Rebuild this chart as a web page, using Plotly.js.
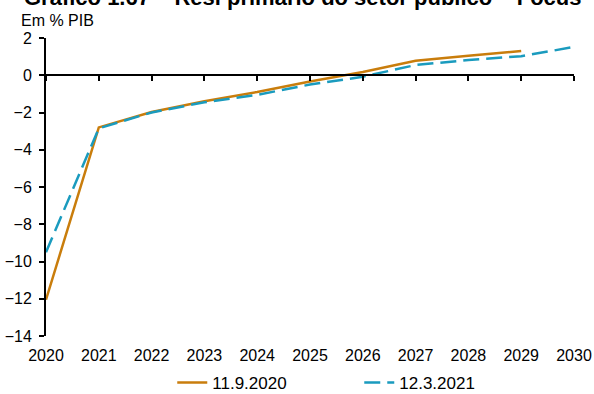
<!DOCTYPE html>
<html>
<head>
<meta charset="utf-8">
<script src="https://cdn.plot.ly/plotly-3.0.1.min.js"></script>
<style>html,body{margin:0;padding:0;background:#fff;}#chart{width:594px;height:394px;}</style>
</head>
<body>
<div id="chart"></div>
<script>
const years = [2020, 2021, 2022, 2023, 2024, 2025, 2026, 2027, 2028, 2029, 2030];
const seriesA_name = "11.9.2020";
const seriesA = [-12.05, -2.8, -1.97, -1.4, -0.9, -0.33, 0.18, 0.78, 1.05, 1.3];
const seriesB_name = "12.3.2021";
const seriesB = [-9.5, -2.85, -2.0, -1.45, -1.05, -0.5, -0.08, 0.55, 0.82, 1.02, 1.52];
const yTicks = [2, 0, -2, -4, -6, -8, -10, -12, -14];
const titleText = "Gráfico 1.67 – Resl primário do setor público – Focus";
const unitText = "Em % PIB";

const font = "Liberation Sans, Arial, sans-serif";
const traces = [
  {x: years.slice(0, seriesA.length), y: seriesA, name: seriesA_name, type: "scatter", mode: "lines",
   line: {color: "#C97D0C", width: 2.5}},
  {x: years.slice(0, seriesB.length), y: seriesB, name: seriesB_name, type: "scatter", mode: "lines",
   line: {color: "#1A9BBE", width: 2.5, dash: "16px,7px"}}
];
const layout = {
  width: 594, height: 394,
  margin: {l: 46, r: 20, t: 38, b: 58, autoexpand: false},
  paper_bgcolor: "#fff", plot_bgcolor: "rgba(0,0,0,0)",
  font: {family: font, size: 16, color: "#000"},
  showlegend: true,
  legend: {orientation: "h", x: 0.29, xanchor: "left", xref: "container", y: 0.028, yanchor: "middle", yref: "container",
           font: {size: 17}, entrywidth: 142, tracegroupgap: 0},
  xaxis: {range: [2020, 2030], anchor: "free", position: 14/16, showline: true, linecolor: "#000", linewidth: 2,
          ticks: "outside", ticklen: 5, tickwidth: 2, tickcolor: "#000", tickvals: years,
          showticklabels: false, showgrid: false, zeroline: false, automargin: false},
  xaxis2: {range: [2020, 2030], overlaying: "x", anchor: "y", side: "bottom", tickvals: years,
           ticktext: years.map(String), showline: false, ticks: "", showgrid: false, zeroline: false,
           tickfont: {size: 16}, ticklabelstandoff: 8, automargin: false},
  yaxis: {range: [-14, 2], tickvals: yTicks, showline: true, linecolor: "#000", linewidth: 2,
          ticks: "outside", ticklen: 5, tickwidth: 2, tickcolor: "#000", showgrid: false, zeroline: false,
          tickfont: {size: 16}, ticklabelstandoff: 4, automargin: false},
  annotations: [
    {text: "<b>" + titleText + "</b>", xref: "paper", yref: "paper", x: 0.486, y: 1.087, xanchor: "center",
     yanchor: "bottom", showarrow: false, font: {size: 22, family: font, color: "#000"}},
    {text: unitText, xref: "paper", yref: "paper", x: -0.051, y: 1.06, xanchor: "left", yanchor: "middle",
     showarrow: false, font: {size: 16, family: font, color: "#000"}}
  ]
};
traces.push({x: [2020, 2030], y: [null, null], xaxis: "x2", yaxis: "y", showlegend: false, hoverinfo: "skip", mode: "lines"});
Plotly.newPlot("chart", traces, layout, {displayModeBar: false, staticPlot: true});
</script>
</body>
</html>
